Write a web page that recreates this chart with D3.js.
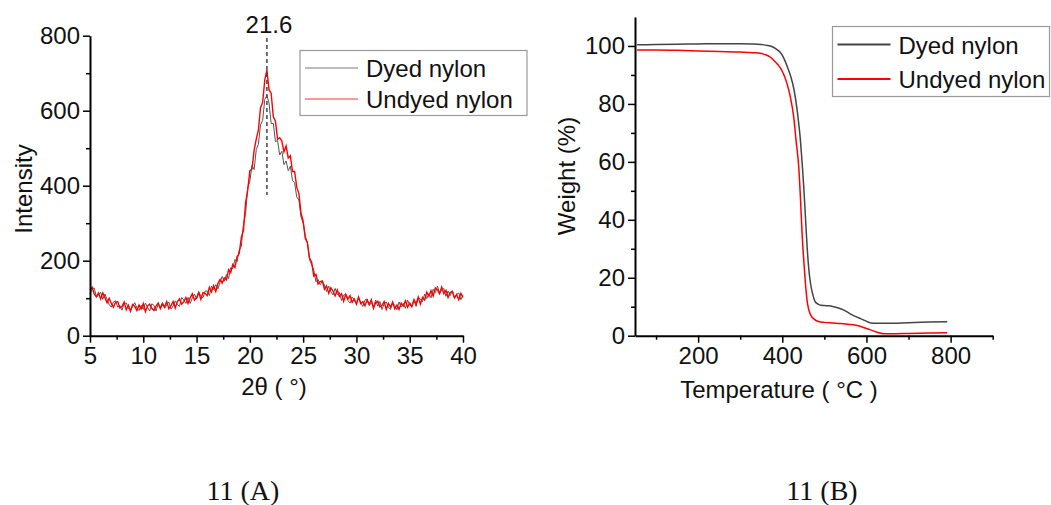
<!DOCTYPE html>
<html>
<head>
<meta charset="utf-8">
<script src="https://cdn.jsdelivr.net/npm/d3@7"></script>
<style>
  body { margin: 0; background: #fff; }
  svg { display: block; font-family: "Liberation Sans", Arial, sans-serif; }
  .axis path, .axis line { stroke: #000; }
  .axis text { font-size: 24px; fill: #111; font-family: "Liberation Sans", Arial, sans-serif; }
  .label { font-size: 24px; fill: #111; }
  .caption { font-family: "Liberation Serif", "Times New Roman", serif; font-size: 28px; fill: #111; }
</style>
</head>
<body>
<svg width="1051" height="505"></svg>
<script>
// ---- 11(A) XRD: 2theta grid 5..40 step 0.2, intensities
const xrdAngles = d3.range(0, 176).map(i => +(5 + i * 0.2).toFixed(1))
const xrdUndyed = [
  122,129,111,104,114,98,114,101,88,100,86,76,89,91,74,78,90,69,81,65,
  83,78,67,82,71,86,64,79,84,73,67,79,87,72,84,77,91,72,80,91,
  74,91,98,84,91,102,86,101,112,95,101,115,97,115,113,107,129,117,133,118,
  139,150,140,154,149,176,168,190,182,211,219,262,281,354,389,440,444,494,524,548,
  608,622,682,708,656,646,584,572,524,528,519,490,506,474,480,438,438,396,379,327,
  306,260,247,207,196,159,164,138,144,146,124,133,113,128,119,106,122,105,112,92,
  110,98,107,89,98,84,103,86,91,80,95,84,96,73,88,92,77,81,91,70,
  86,76,90,72,82,70,87,79,93,76,87,77,96,85,103,84,102,95,116,105,
  120,106,127,122,112,130,112,121,102,115,118,101,110,96,113,102
]
const xrdDyed = [
  111,126,127,103,108,116,97,111,97,83,76,90,93,76,81,68,85,87,73,68,
  79,88,74,67,81,70,87,75,66,85,81,66,84,76,89,73,82,90,71,79,
  93,83,78,102,95,86,102,86,101,111,98,117,106,101,119,119,107,132,123,136,
  125,142,158,145,163,152,181,179,203,197,228,238,298,326,395,412,454,443,496,510,
  562,574,630,641,620,566,566,518,520,482,492,456,466,440,452,414,408,370,362,316,
  301,266,249,203,189,175,144,150,136,145,135,118,132,117,109,126,110,115,94,108,
  111,94,87,103,96,86,102,88,78,95,98,80,88,76,95,79,91,70,85,90,
  75,70,87,81,69,90,76,86,73,95,82,78,94,78,102,98,91,111,99,112,
  101,124,115,132,114,121,126,105,119,107,120,100,110,114,96,109
]
const xrdPeak = 21.6
const xrdYTicks = [0, 200, 400, 600, 800]
const xrdXTicks = [5, 10, 15, 20, 25, 30, 35, 40]

// ---- 11(B) TGA
const tgaDyedT = [55,100,150,200,250,300,330,350,365,375,385,395,403,412,420,428,436,443,448,451,455,459,463,467,472,478,485,492,500,510,522,535,545,554,565,575,586,598,610,625,648,700,750,792]
const tgaDyedW = [100.4,100.5,100.6,100.7,100.8,100.8,100.7,100.5,100.2,99.8,99.0,97.8,96.0,92.8,89.5,84.8,77,67.6,58,51.4,41,30.7,23,18.1,14.5,11.8,10.9,10.5,10.4,10.3,10.0,9.5,8.9,8.2,7.3,6.6,5.9,5.1,4.4,4.3,4.3,4.5,4.7,4.8]
const tgaUndyedT = [55,100,150,200,250,300,330,350,362,371,380,388,395,403,411,419,427,433,439,443,447,451,455,459,463,468,475,486,500,520,540,560,578,590,600,610,625,641,660,700,750,792]
const tgaUndyedW = [98.6,98.6,98.5,98.3,98.1,97.9,97.7,97.4,96.9,96.2,95.0,93.8,92.5,90.3,87.1,82.5,75.6,67,58.4,48,35.4,26,18.1,12,8.9,7.0,5.8,4.9,4.6,4.4,4.2,3.9,3.5,3.0,2.5,2.0,1.2,0.7,0.7,0.8,0.9,1.0]
const tgaYTicks = [0, 20, 40, 60, 80, 100]
const tgaXTicks = [200, 400, 600, 800]

const seriesNames = ['Dyed nylon', 'Undyed nylon']
const captions = ['11 (A)', '11 (B)']

const svg = d3.select('svg')

// draws axis with major + minor ticks
function drawAxes(g, x, y, xMajor, xMinor, yMajor, yMinor, bottom, left) {
  g.append('g').attr('class', 'axis')
    .attr('transform', `translate(0,${bottom})`)
    .call(d3.axisBottom(x).tickValues(xMinor).tickSize(4).tickFormat(''))
    .select('.domain').remove()
  g.append('g').attr('class', 'axis')
    .attr('transform', `translate(${left},0)`)
    .call(d3.axisLeft(y).tickValues(yMinor).tickSize(4).tickFormat(''))
    .select('.domain').remove()

  const xa = g.append('g').attr('class', 'axis')
    .attr('transform', `translate(0,${bottom})`)
    .call(d3.axisBottom(x).tickValues(xMajor).tickSize(7).tickSizeOuter(0).tickPadding(4))
  const ya = g.append('g').attr('class', 'axis')
    .attr('transform', `translate(${left},0)`)
    .call(d3.axisLeft(y).tickValues(yMajor).tickSize(7).tickSizeOuter(0).tickPadding(3))
  g.selectAll('.axis line').attr('stroke-width', 1.5)
  xa.select('.domain').attr('stroke-width', 2)
  ya.select('.domain').attr('stroke-width', 2)
}

function legend(g, x0, y0, w, h, items) {
  g.append('rect').attr('x', x0).attr('y', y0).attr('width', w).attr('height', h)
    .attr('fill', '#fff').attr('stroke', '#999').attr('stroke-width', 1.2)
  items.forEach((it, i) => {
    const cy = it.y
    g.append('line').attr('x1', x0 + 5).attr('x2', x0 + 58)
      .attr('y1', cy).attr('y2', cy)
      .attr('stroke', it.color).attr('stroke-width', it.width)
    g.append('text').attr('class', 'label').attr('x', x0 + 66).attr('y', cy + 9)
      .text(it.name)
  })
}

// ---------- Panel A ----------
{
  const g = svg.append('g')
  const x = d3.scaleLinear().domain([5, 40]).range([90, 463])
  const y = d3.scaleLinear().domain([0, 800]).range([335.7, 35.7])

  const line = d3.line().x((d, i) => x(xrdAngles[i])).y(d => y(d))

  g.append('path').datum(xrdDyed).attr('d', line)
    .attr('fill', 'none').attr('stroke', '#555').attr('stroke-width', 1)
  g.append('path').datum(xrdUndyed).attr('d', line)
    .attr('fill', 'none').attr('stroke', '#ff0000').attr('stroke-width', 1.4)

  g.append('line').attr('x1', x(xrdPeak)).attr('x2', x(xrdPeak))
    .attr('y1', 38).attr('y2', 195)
    .attr('stroke', '#444').attr('stroke-width', 1.5).attr('stroke-dasharray', '4,3')
  g.append('text').attr('class', 'label').attr('x', x(xrdPeak) + 2).attr('y', 33)
    .attr('text-anchor', 'middle').text(xrdPeak)

  drawAxes(g, x, y, xrdXTicks, d3.range(7.5, 40, 5), xrdYTicks, d3.range(100, 800, 200), 335.7, 90)

  g.append('text').attr('class', 'label').attr('transform', 'rotate(-90)')
    .attr('x', -189).attr('y', 32).attr('text-anchor', 'middle').text('Intensity')
  g.append('text').attr('class', 'label').attr('x', 274).attr('y', 395)
    .attr('text-anchor', 'middle').text('2θ ( °)')

  legend(g, 300, 50.5, 227, 65, [
    { name: seriesNames[0], color: '#777', width: 1, y: 68 },
    { name: seriesNames[1], color: '#ff3030', width: 1, y: 99 }
  ])
}

// ---------- Panel B ----------
{
  const g = svg.append('g')
  const x = d3.scaleLinear().domain([50, 900]).range([635, 992.7])
  const y = d3.scaleLinear().domain([0, 110]).range([335.7, 17])

  const lineD = d3.line().x((d, i) => x(tgaDyedT[i])).y(d => y(d)).curve(d3.curveMonotoneX)
  const lineU = d3.line().x((d, i) => x(tgaUndyedT[i])).y(d => y(d)).curve(d3.curveMonotoneX)

  g.append('path').datum(tgaDyedW).attr('d', lineD)
    .attr('fill', 'none').attr('stroke', '#444').attr('stroke-width', 1.5)
  g.append('path').datum(tgaUndyedW).attr('d', lineU)
    .attr('fill', 'none').attr('stroke', '#ff0000').attr('stroke-width', 1.5)

  drawAxes(g, x, y, tgaXTicks, [100, 300, 500, 700, 900], tgaYTicks, [10, 30, 50, 70, 90], 335.7, 635)

  g.append('text').attr('class', 'label').attr('transform', 'rotate(-90)')
    .attr('x', -176).attr('y', 575).attr('text-anchor', 'middle').text('Weight (%)')
  g.append('text').attr('class', 'label').attr('x', 779).attr('y', 398)
    .attr('text-anchor', 'middle').text('Temperature ( °C )')

  legend(g, 832.5, 26.5, 217, 70, [
    { name: seriesNames[0], color: '#444', width: 1.8, y: 44.5 },
    { name: seriesNames[1], color: '#ff0000', width: 1.8, y: 79 }
  ])
}

// captions
svg.append('text').attr('class', 'caption').attr('x', 243).attr('y', 500)
  .attr('text-anchor', 'middle').text(captions[0])
svg.append('text').attr('class', 'caption').attr('x', 822).attr('y', 500)
  .attr('text-anchor', 'middle').text(captions[1])
</script>
</body>
</html>
